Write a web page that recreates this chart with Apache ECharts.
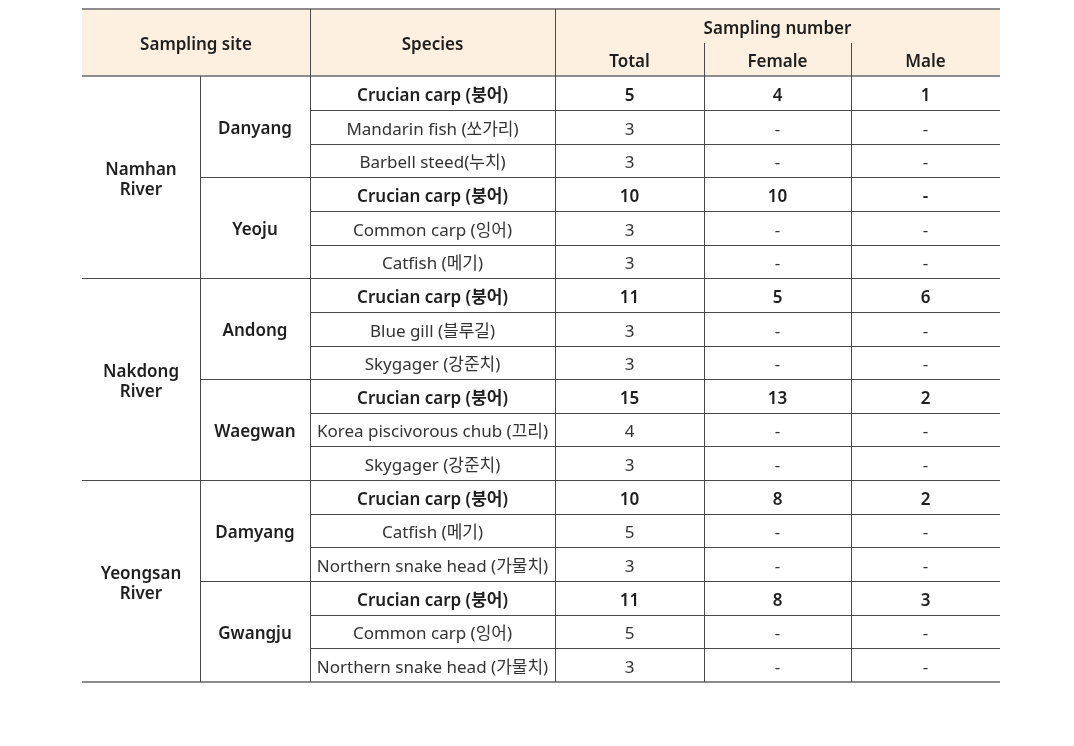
<!DOCTYPE html>
<html>
<head>
<meta charset="utf-8">
<script src="https://cdn.jsdelivr.net/npm/echarts@6/dist/echarts.min.js"></script>
<style>
  html, body { margin: 0; padding: 0; background: #fff; }
  #main { width: 1074px; height: 746px; }
</style>
</head>
<body>
<div id="main"></div>
<script>
// table content
const headTop = ['Sampling site', 'Species', 'Sampling number'];
const headSub = ['Total', 'Female', 'Male'];
const rivers = ['Namhan\nRiver', 'Nakdong\nRiver', 'Yeongsan\nRiver'];
const sites = ['Danyang', 'Yeoju', 'Andong', 'Waegwan', 'Damyang', 'Gwangju'];
const species = [
  'Crucian carp (붕어)', 'Mandarin fish (쏘가리)', 'Barbell steed(누치)',
  'Crucian carp (붕어)', 'Common carp (잉어)', 'Catfish (메기)',
  'Crucian carp (붕어)', 'Blue gill (블루길)', 'Skygager (강준치)',
  'Crucian carp (붕어)', 'Korea piscivorous chub (끄리)', 'Skygager (강준치)',
  'Crucian carp (붕어)', 'Catfish (메기)', 'Northern snake head (가물치)',
  'Crucian carp (붕어)', 'Common carp (잉어)', 'Northern snake head (가물치)'
];
const total = [5, 3, 3, 10, 3, 3, 11, 3, 3, 15, 4, 3, 10, 5, 3, 11, 5, 3];
const female = [4, null, null, 10, null, null, 5, null, null, 13, null, null, 8, null, null, 8, null, null];
const male = [1, null, null, null, null, null, 6, null, null, 2, null, null, 2, null, null, 3, null, null];

// layout (column edges in px from the table's left side)
const colEdges = [0, 118, 228, 473, 622, 769, 918];
const headRows = 2;
const FONT = '"Noto Sans", "Noto Sans CJK KR", sans-serif';

const cells = [];
function addCell(col, colSpan, row, rowSpan, text, bold, head) {
  cells.push({ col, colSpan, row, rowSpan, text, bold, head });
}
addCell(0, 2, 0, 2, headTop[0], true, true);
addCell(2, 1, 0, 2, headTop[1], true, true);
addCell(3, 3, 0, 1, headTop[2], true, true);
headSub.forEach((t, i) => addCell(3 + i, 1, 1, 1, t, true, true));
rivers.forEach((t, i) => addCell(0, 1, headRows + i * 6, 6, t, true, false));
sites.forEach((t, i) => addCell(1, 1, headRows + i * 3, 3, t, true, false));
species.forEach((t, i) => {
  const r = headRows + i;
  const b = i % 3 === 0;
  const fmt = v => (v == null ? '-' : String(v));
  addCell(2, 1, r, 1, t, b, false);
  addCell(3, 1, r, 1, fmt(total[i]), b, false);
  addCell(4, 1, r, 1, fmt(female[i]), b, false);
  addCell(5, 1, r, 1, fmt(male[i]), b, false);
});

const chart = echarts.init(document.getElementById('main'));
chart.setOption({
  animation: false,
  grid: { left: 82, right: 74, top: 9, bottom: 64 },
  xAxis: { type: 'value', min: 0, max: 918, show: false },
  yAxis: { type: 'value', min: 0, max: headRows + species.length, inverse: true, show: false },
  series: [{
    type: 'custom',
    clip: false,
    data: cells.map(c => [colEdges[c.col], c.row, colEdges[c.col + c.colSpan], c.row + c.rowSpan]),
    renderItem(params, api) {
      const c = cells[params.dataIndex];
      const p0 = api.coord([api.value(0), api.value(1)]);
      const p1 = api.coord([api.value(2), api.value(3)]);
      const x0 = Math.round(p0[0]), y0 = Math.round(p0[1]);
      const x1 = Math.round(p1[0]), y1 = Math.round(p1[1]);
      const children = [];
      if (c.head) {
        children.push({ type: 'rect', shape: { x: x0, y: y0, width: x1 - x0, height: y1 - y0 },
          style: { fill: '#fdf0e1' } });
      }
      const lineDark = { stroke: '#4a4a4a', lineWidth: 1 };
      const lineGray = { stroke: '#8c8c8c', lineWidth: 2 };
      // bottom border
      const bStyle = (c.head && c.row + c.rowSpan === headRows) ? lineGray :
        (c.row + c.rowSpan === headRows + species.length ? lineGray : lineDark);
      const bo = bStyle.lineWidth === 1 ? 0.5 : 0;
      children.push({ type: 'line', shape: { x1: x0, y1: y1 + bo, x2: x1, y2: y1 + bo }, style: bStyle });
      if (c.row === 0) {
        children.push({ type: 'line', shape: { x1: x0, y1: y0, x2: x1, y2: y0 }, style: lineGray });
      }
      if (c.col > 0) {
        children.push({ type: 'line', shape: { x1: x0 + 0.5, y1: y0, x2: x0 + 0.5, y2: y1 }, style: lineDark });
      }
      children.push({
        type: 'text',
        style: {
          text: c.text, x: (x0 + x1) / 2, y: (y0 + y1) / 2 + 3,
          align: 'center', verticalAlign: 'middle',
          fontFamily: FONT, fontSize: 17, lineHeight: 20,
          fontWeight: c.bold ? 600 : 'normal',
          fill: c.bold ? '#1e1e1e' : '#333'
        }
      });
      return { type: 'group', children };
    }
  }]
});
</script>
</body>
</html>
